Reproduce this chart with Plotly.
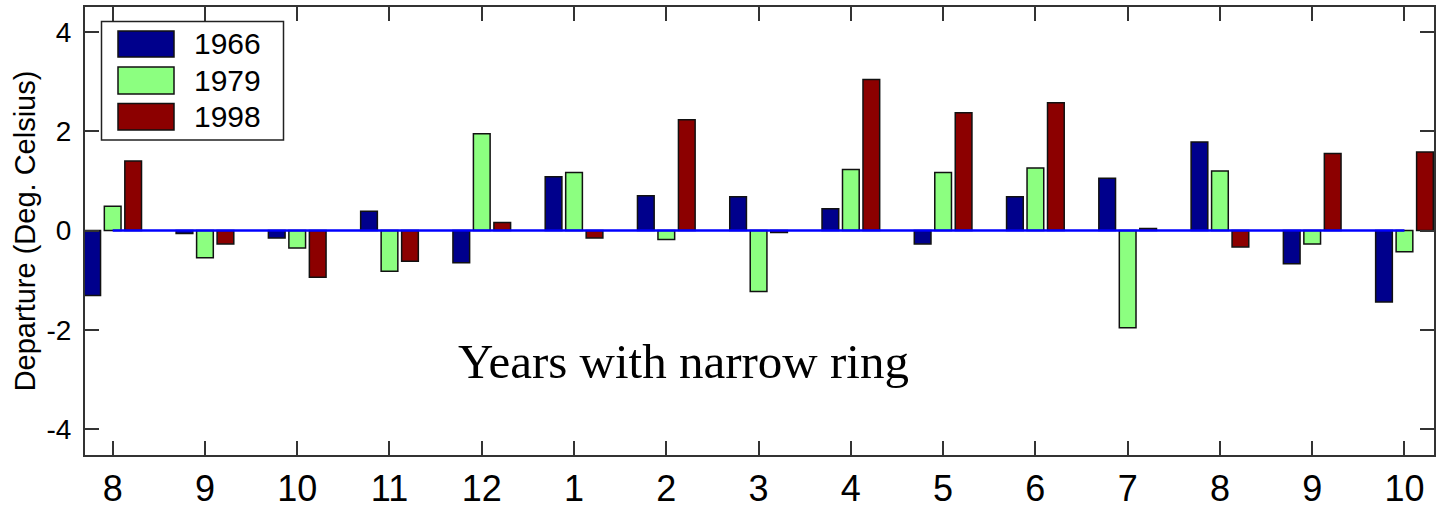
import plotly.graph_objects as go

# ---- data ----
months = ["8", "9", "10", "11", "12", "1", "2", "3", "4", "5", "6", "7", "8", "9", "10"]
series_names = ["1966", "1979", "1998"]
v1966 = [-1.31, -0.06, -0.15, 0.39, -0.65, 1.08, 0.70, 0.68, 0.44, -0.27, 0.68, 1.05, 1.78, -0.67, -1.44]
v1979 = [0.49, -0.55, -0.35, -0.82, 1.95, 1.17, -0.18, -1.23, 1.23, 1.17, 1.26, -1.96, 1.20, -0.27, -0.43]
v1998 = [1.40, -0.27, -0.94, -0.62, 0.16, -0.15, 2.23, -0.04, 3.04, 2.37, 2.57, 0.04, -0.33, 1.55, 1.58]
colors = ["#00008c", "#8cff80", "#8c0000"]
annotation_text = "Years with narrow ring"
ytitle = "Departure (Deg. Celsius)"

W, H = 1441, 510
ML, MR, MT, MB = 85, 7, 7, 55
xpos = list(range(len(months)))
XR = [-0.30, 14.32]
YR = [-4.52, 4.50]

bw = 0.181
step = 0.222
offsets = [-step - bw / 2, -bw / 2, step - bw / 2]

fig = go.Figure()
for name, vals, col, off in zip(series_names, [v1966, v1979, v1998], colors, offsets):
    fig.add_trace(go.Bar(
        x=xpos, y=vals, name=name, width=bw, offset=off,
        marker=dict(color=col, line=dict(color="#111111", width=1.5)),
        showlegend=False,
    ))

# zero reference line across categories
fig.add_trace(go.Scatter(
    x=[xpos[0], xpos[-1]], y=[0, 0], mode="lines",
    line=dict(color="#0000ff", width=2.5), showlegend=False, hoverinfo="skip",
))

# ---- custom legend (pixel layout -> paper coords) ----
pw = W - ML - MR
ph = H - MT - MB
def px2paper_x(px):
    return (px - ML) / pw
def px2paper_y(py):
    return 1 - (py - MT) / ph

shapes = []
shapes.append(dict(type="rect", xref="paper", yref="paper",
                   x0=px2paper_x(101.5), x1=px2paper_x(283.5),
                   y0=px2paper_y(140), y1=px2paper_y(21.5),
                   fillcolor="white", line=dict(color="#222222", width=1.5), layer="above"))
rows = [(31, 57), (67, 94), (103.5, 130)]
annotations = []
for (t, b), col, name in zip(rows, colors, series_names):
    shapes.append(dict(type="rect", xref="paper", yref="paper",
                       x0=px2paper_x(118), x1=px2paper_x(174),
                       y0=px2paper_y(b), y1=px2paper_y(t),
                       fillcolor=col, line=dict(color="#111111", width=1.5), layer="above"))
    annotations.append(dict(xref="paper", yref="paper", x=px2paper_x(192), y=px2paper_y((t + b) / 2),
                            text=name, showarrow=False, xanchor="left", yanchor="middle",
                            font=dict(family="Liberation Sans, Arial", size=30, color="black")))

annotations.append(dict(xref="x", yref="y", x=6.19, y=-2.64, text=annotation_text, showarrow=False,
                        xanchor="center", yanchor="middle",
                        font=dict(family="Liberation Serif, Times New Roman", size=49, color="black")))

fig.update_layout(
    width=W, height=H, autosize=False,
    margin=dict(l=ML, r=MR, t=MT, b=MB, autoexpand=False),
    paper_bgcolor="white", plot_bgcolor="white",
    barmode="overlay",
    shapes=shapes, annotations=annotations,
    font=dict(family="Liberation Sans, Arial", color="black"),
)
fig.update_xaxes(
    range=XR, tickmode="array", tickvals=xpos, ticktext=months,
    showline=True, linecolor="#333333", linewidth=2, mirror="ticks",
    ticks="inside", ticklen=14, tickwidth=1.5, tickcolor="#333333",
    showgrid=False, zeroline=False, tickfont=dict(size=36), ticklabelstandoff=1,
    automargin=False,
)
fig.update_yaxes(
    range=YR, tickmode="array", tickvals=[-4, -2, 0, 2, 4], ticktext=["-4", "-2", "0", "2", "4"],
    showline=True, linecolor="#333333", linewidth=2, mirror="ticks",
    ticks="inside", ticklen=14, tickwidth=1.5, tickcolor="#333333",
    showgrid=False, zeroline=False, tickfont=dict(size=28), ticklabelstandoff=6,
    title=dict(text=ytitle, font=dict(size=29), standoff=2),
    automargin=False,
)

fig.write_html("out.html", config={"displayModeBar": False},
               post_script="document.body.style.margin='0';document.body.style.overflow='hidden';")
